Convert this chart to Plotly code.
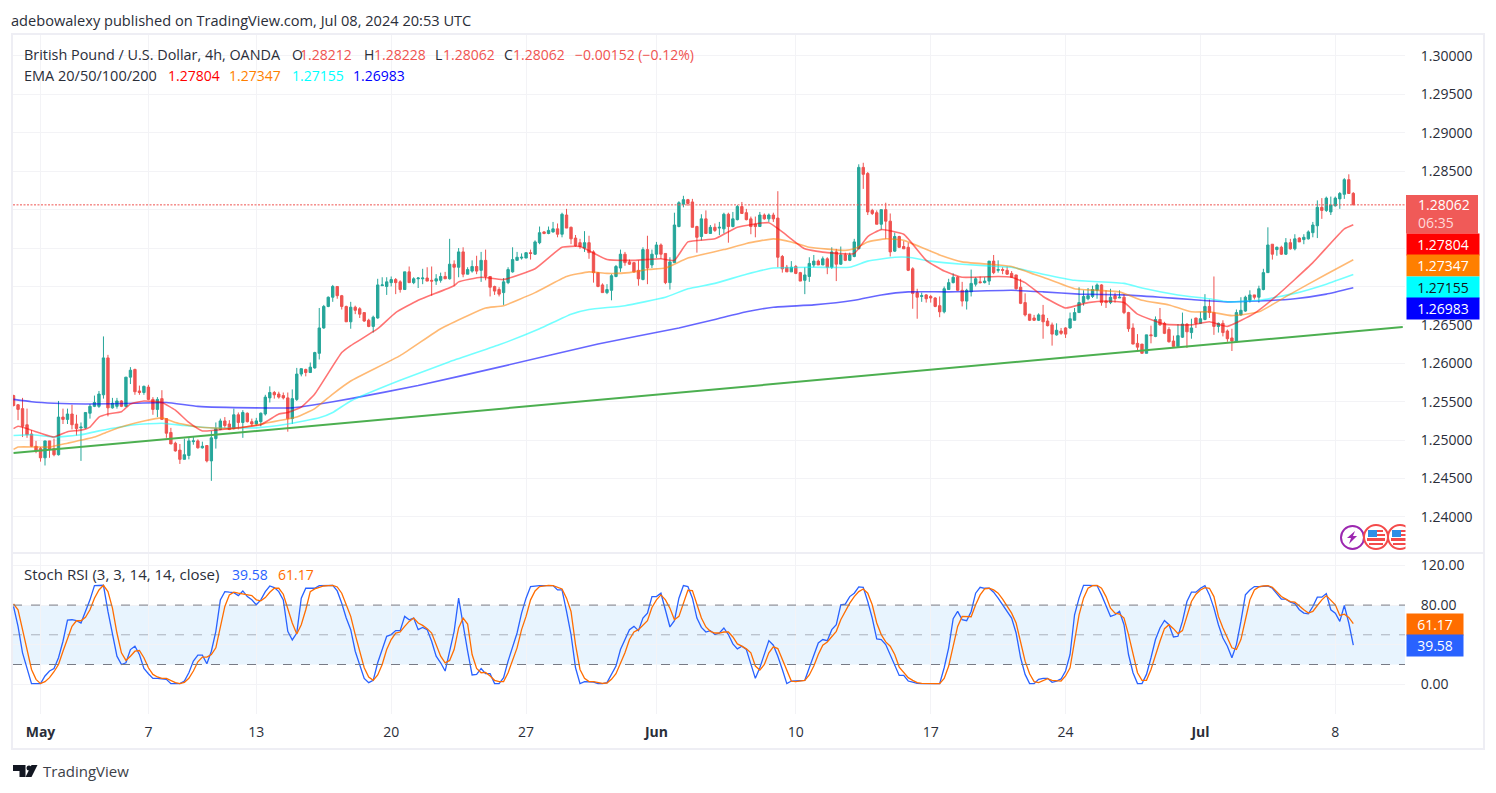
import plotly.graph_objects as go
from plotly.subplots import make_subplots

W, H = 1496, 793

# 4h bars, numbered from the May 1 session open
first_bar = -6

opens = [
    1.2558,1.2546,1.2541,1.2520,1.2508,1.2492,1.2489,1.2477,1.2499,1.2489,
    1.2481,1.2530,1.2527,1.2534,1.2521,1.2516,1.2516,1.2535,1.2544,1.2544,
    1.2559,1.2607,1.2542,1.2544,1.2551,1.2544,1.2582,1.2592,1.2564,1.2562,
    1.2569,1.2553,1.2540,1.2554,1.2528,1.2510,1.2496,1.2487,1.2475,1.2480,
    1.2498,1.2499,1.2490,1.2493,1.2473,1.2502,1.2514,1.2525,1.2521,1.2515,
    1.2533,1.2523,1.2535,1.2524,1.2521,1.2524,1.2534,1.2555,1.2562,1.2560,
    1.2558,1.2555,1.2528,1.2553,1.2586,1.2592,1.2588,1.2594,1.2613,1.2646,
    1.2674,1.2686,1.2700,1.2688,1.2674,1.2654,1.2673,1.2671,1.2666,1.2656,
    1.2648,1.2659,1.2701,1.2700,1.2705,1.2709,1.2706,1.2696,1.2719,1.2705,
    1.2710,1.2710,1.2711,1.2708,1.2707,1.2708,1.2713,1.2710,1.2729,1.2725,
    1.2745,1.2716,1.2720,1.2726,1.2721,1.2734,1.2713,1.2700,1.2696,1.2692,
    1.2705,1.2719,1.2734,1.2737,1.2737,1.2744,1.2742,1.2757,1.2771,1.2769,
    1.2771,1.2775,1.2768,1.2793,1.2777,1.2763,1.2757,1.2750,1.2757,1.2745,
    1.2718,1.2702,1.2692,1.2695,1.2713,1.2724,1.2742,1.2732,1.2731,1.2721,
    1.2709,1.2748,1.2728,1.2742,1.2754,1.2743,1.2705,1.2731,1.2778,1.2807,
    1.2813,1.2810,1.2778,1.2765,1.2788,1.2769,1.2777,1.2776,1.2775,1.2794,
    1.2778,1.2787,1.2804,1.2796,1.2788,1.2781,1.2778,1.2793,1.2788,1.2793,
    1.2789,1.2739,1.2725,1.2719,1.2726,1.2718,1.2708,1.2713,1.2728,1.2733,
    1.2728,1.2736,1.2725,1.2745,1.2729,1.2741,1.2734,1.2739,1.2749,1.2855,
    1.2847,1.2799,1.2796,1.2781,1.2800,1.2785,1.2746,1.2765,1.2752,1.2751,
    1.2723,1.2692,1.2687,1.2689,1.2687,1.2685,1.2675,1.2667,1.2696,1.2705,
    1.2712,1.2695,1.2681,1.2693,1.2703,1.2706,1.2705,1.2707,1.2733,1.2721,
    1.2722,1.2721,1.2717,1.2715,1.2699,1.2679,1.2664,1.2659,1.2656,1.2663,
    1.2655,1.2650,1.2637,1.2642,1.2646,1.2646,1.2656,1.2666,1.2679,1.2684,
    1.2687,1.2695,1.2702,1.2681,1.2679,1.2688,1.2685,1.2686,1.2666,1.2646,
    1.2626,1.2625,1.2613,1.2637,1.2635,1.2657,1.2652,1.2644,1.2629,1.2622,
    1.2634,1.2651,1.2640,1.2659,1.2652,1.2657,1.2674,1.2666,1.2648,1.2652,
    1.2642,1.2633,1.2628,1.2663,1.2668,1.2682,1.2689,1.2686,1.2696,1.2718,
    1.2755,1.2748,1.2751,1.2742,1.2757,1.2749,1.2763,1.2761,1.2762,1.2770,
    1.2779,1.2803,1.2799,1.2797,1.2805,1.2814,1.2820,1.2839,1.28212,
]
highs = [
    1.2559,1.2547,1.2555,1.2541,1.2513,1.2499,1.2491,1.2499,1.2499,1.2502,
    1.2551,1.2541,1.2541,1.2546,1.2533,1.2523,1.2536,1.2547,1.2558,1.2564,
    1.2635,1.2611,1.2555,1.2555,1.2552,1.2582,1.2595,1.2593,1.2571,1.2571,
    1.2572,1.2556,1.2556,1.2565,1.2528,1.2516,1.2498,1.2495,1.2502,1.2504,
    1.2504,1.2501,1.2498,1.2493,1.2512,1.2523,1.2528,1.2530,1.2526,1.2541,
    1.2536,1.2539,1.2536,1.2528,1.2529,1.2536,1.2559,1.2570,1.2564,1.2563,
    1.2562,1.2562,1.2566,1.2594,1.2593,1.2593,1.2601,1.2615,1.2672,1.2676,
    1.2687,1.2702,1.2700,1.2689,1.2675,1.2680,1.2675,1.2673,1.2666,1.2658,
    1.2662,1.2710,1.2712,1.2712,1.2713,1.2711,1.2708,1.2719,1.2726,1.2712,
    1.2712,1.2723,1.2725,1.2726,1.2716,1.2718,1.2719,1.2762,1.2734,1.2750,
    1.2751,1.2725,1.2734,1.2740,1.2745,1.2748,1.2713,1.2701,1.2699,1.2711,
    1.2725,1.2751,1.2745,1.2743,1.2744,1.2748,1.2760,1.2778,1.2772,1.2778,
    1.2784,1.2782,1.2796,1.2801,1.2778,1.2767,1.2762,1.2772,1.2766,1.2747,
    1.2718,1.2704,1.2703,1.2716,1.2728,1.2748,1.2745,1.2735,1.2732,1.2734,
    1.2751,1.2766,1.2748,1.2758,1.2756,1.2743,1.2738,1.2796,1.2811,1.2818,
    1.2814,1.2814,1.2779,1.2794,1.2799,1.2780,1.2782,1.2784,1.2796,1.2796,
    1.2797,1.2806,1.2810,1.2801,1.2791,1.2791,1.2797,1.2795,1.2795,1.2796,
    1.2824,1.2741,1.2728,1.2733,1.2728,1.2719,1.2725,1.2738,1.2741,1.2735,
    1.2739,1.2738,1.2751,1.2749,1.2752,1.2744,1.2744,1.2762,1.2859,1.2861,
    1.2849,1.2801,1.2799,1.2800,1.2809,1.2795,1.2770,1.2766,1.2759,1.2757,
    1.2725,1.2697,1.2692,1.2690,1.2689,1.2686,1.2687,1.2700,1.2710,1.2717,
    1.2713,1.2706,1.2697,1.2722,1.2712,1.2713,1.2712,1.2733,1.2741,1.2734,
    1.2725,1.2726,1.2720,1.2715,1.2710,1.2691,1.2664,1.2663,1.2665,1.2676,
    1.2659,1.2653,1.2652,1.2646,1.2647,1.2666,1.2672,1.2699,1.2695,1.2698,
    1.2701,1.2704,1.2703,1.2695,1.2697,1.2692,1.2695,1.2690,1.2667,1.2652,
    1.2638,1.2625,1.2637,1.2649,1.2661,1.2672,1.2654,1.2647,1.2636,1.2651,
    1.2666,1.2652,1.2658,1.2659,1.2667,1.2690,1.2683,1.2713,1.2653,1.2656,
    1.2644,1.2645,1.2670,1.2686,1.2688,1.2695,1.2689,1.2701,1.2723,1.2777,
    1.2755,1.2752,1.2753,1.2763,1.2762,1.2768,1.2764,1.2768,1.2773,1.2784,
    1.2812,1.2815,1.2817,1.2817,1.2817,1.2823,1.2841,1.2846,1.28228,
]
lows = [
    1.2544,1.2526,1.2504,1.2503,1.2491,1.2483,1.2472,1.2467,1.2477,1.2479,
    1.2480,1.2521,1.2521,1.2514,1.2506,1.2473,1.2515,1.2528,1.2543,1.2542,
    1.2554,1.2531,1.2541,1.2541,1.2543,1.2543,1.2573,1.2559,1.2559,1.2559,
    1.2552,1.2533,1.2530,1.2527,1.2503,1.2495,1.2485,1.2469,1.2475,1.2475,
    1.2494,1.2489,1.2489,1.2471,1.2447,1.2489,1.2513,1.2516,1.2513,1.2514,
    1.2514,1.2503,1.2523,1.2518,1.2519,1.2518,1.2532,1.2549,1.2554,1.2554,
    1.2553,1.2511,1.2521,1.2551,1.2583,1.2583,1.2588,1.2593,1.2605,1.2645,
    1.2673,1.2680,1.2684,1.2670,1.2654,1.2645,1.2664,1.2659,1.2654,1.2647,
    1.2640,1.2658,1.2701,1.2689,1.2700,1.2690,1.2692,1.2696,1.2705,1.2703,
    1.2698,1.2703,1.2707,1.2688,1.2702,1.2705,1.2710,1.2709,1.2701,1.2712,
    1.2712,1.2716,1.2718,1.2716,1.2706,1.2708,1.2687,1.2689,1.2687,1.2676,
    1.2703,1.2718,1.2734,1.2735,1.2737,1.2735,1.2741,1.2755,1.2768,1.2768,
    1.2770,1.2764,1.2764,1.2776,1.2755,1.2752,1.2749,1.2745,1.2736,1.2705,
    1.2699,1.2692,1.2690,1.2682,1.2712,1.2719,1.2727,1.2728,1.2718,1.2701,
    1.2708,1.2703,1.2724,1.2737,1.2736,1.2703,1.2696,1.2731,1.2777,1.2803,
    1.2805,1.2777,1.2744,1.2760,1.2769,1.2769,1.2771,1.2767,1.2769,1.2757,
    1.2777,1.2786,1.2795,1.2786,1.2768,1.2764,1.2778,1.2787,1.2784,1.2784,
    1.2725,1.2718,1.2719,1.2719,1.2716,1.2707,1.2690,1.2706,1.2725,1.2728,
    1.2728,1.2716,1.2723,1.2707,1.2728,1.2733,1.2733,1.2738,1.2749,1.2827,
    1.2793,1.2793,1.2781,1.2774,1.2762,1.2739,1.2745,1.2750,1.2749,1.2720,
    1.2671,1.2658,1.2680,1.2679,1.2679,1.2673,1.2660,1.2665,1.2696,1.2704,
    1.2694,1.2674,1.2670,1.2687,1.2700,1.2704,1.2704,1.2702,1.2716,1.2718,
    1.2716,1.2715,1.2712,1.2696,1.2677,1.2661,1.2655,1.2655,1.2655,1.2632,
    1.2648,1.2623,1.2636,1.2637,1.2633,1.2645,1.2656,1.2666,1.2675,1.2682,
    1.2685,1.2684,1.2675,1.2672,1.2677,1.2679,1.2685,1.2664,1.2641,1.2625,
    1.2615,1.2613,1.2613,1.2626,1.2634,1.2649,1.2638,1.2627,1.2622,1.2621,
    1.2633,1.2620,1.2632,1.2646,1.2651,1.2656,1.2659,1.2637,1.2640,1.2635,
    1.2628,1.2616,1.2627,1.2662,1.2667,1.2679,1.2683,1.2679,1.2695,1.2718,
    1.2735,1.2740,1.2741,1.2741,1.2748,1.2747,1.2758,1.2755,1.2761,1.2764,
    1.2763,1.2788,1.2797,1.2793,1.2804,1.2801,1.2814,1.2821,1.28062,
]
closes = [
    1.2545,1.2540,1.2518,1.2507,1.2492,1.2486,1.2477,1.2499,1.2488,1.2481,
    1.2530,1.2527,1.2534,1.2520,1.2515,1.2517,1.2536,1.2544,1.2549,1.2560,
    1.2607,1.2542,1.2548,1.2551,1.2544,1.2582,1.2591,1.2563,1.2562,1.2570,
    1.2553,1.2540,1.2553,1.2527,1.2509,1.2495,1.2486,1.2475,1.2481,1.2499,
    1.2499,1.2490,1.2492,1.2473,1.2503,1.2515,1.2525,1.2519,1.2514,1.2533,
    1.2523,1.2536,1.2524,1.2521,1.2525,1.2535,1.2556,1.2562,1.2559,1.2556,
    1.2555,1.2528,1.2554,1.2586,1.2593,1.2588,1.2595,1.2614,1.2646,1.2674,
    1.2686,1.2700,1.2688,1.2674,1.2654,1.2673,1.2669,1.2664,1.2655,1.2648,
    1.2660,1.2702,1.2702,1.2706,1.2709,1.2705,1.2696,1.2719,1.2705,1.2710,
    1.2711,1.2711,1.2707,1.2707,1.2710,1.2713,1.2710,1.2729,1.2725,1.2745,
    1.2716,1.2722,1.2726,1.2720,1.2734,1.2713,1.2699,1.2694,1.2690,1.2706,
    1.2722,1.2735,1.2738,1.2738,1.2744,1.2743,1.2758,1.2770,1.2769,1.2773,
    1.2775,1.2768,1.2794,1.2776,1.2762,1.2753,1.2752,1.2757,1.2744,1.2718,
    1.2700,1.2692,1.2696,1.2714,1.2726,1.2742,1.2731,1.2729,1.2719,1.2710,
    1.2748,1.2724,1.2742,1.2754,1.2742,1.2705,1.2732,1.2780,1.2809,1.2813,
    1.2808,1.2777,1.2764,1.2788,1.2769,1.2777,1.2773,1.2777,1.2794,1.2778,
    1.2788,1.2804,1.2795,1.2787,1.2778,1.2778,1.2793,1.2788,1.2793,1.2788,
    1.2738,1.2723,1.2719,1.2725,1.2717,1.2707,1.2715,1.2730,1.2733,1.2728,
    1.2736,1.2725,1.2745,1.2729,1.2741,1.2734,1.2741,1.2758,1.2855,1.2846,
    1.2797,1.2795,1.2781,1.2800,1.2785,1.2745,1.2765,1.2751,1.2749,1.2721,
    1.2691,1.2686,1.2688,1.2684,1.2685,1.2674,1.2667,1.2697,1.2705,1.2712,
    1.2695,1.2681,1.2695,1.2704,1.2710,1.2705,1.2707,1.2733,1.2718,1.2722,
    1.2721,1.2716,1.2712,1.2697,1.2678,1.2663,1.2656,1.2656,1.2663,1.2654,
    1.2649,1.2638,1.2643,1.2639,1.2638,1.2658,1.2666,1.2679,1.2687,1.2688,
    1.2696,1.2702,1.2679,1.2679,1.2686,1.2684,1.2686,1.2666,1.2645,1.2625,
    1.2621,1.2613,1.2637,1.2636,1.2657,1.2650,1.2639,1.2628,1.2622,1.2636,
    1.2651,1.2641,1.2646,1.2652,1.2658,1.2674,1.2666,1.2648,1.2652,1.2640,
    1.2632,1.2629,1.2666,1.2669,1.2686,1.2689,1.2686,1.2697,1.2718,1.2754,
    1.2742,1.2751,1.2742,1.2757,1.2749,1.2762,1.2758,1.2764,1.2771,1.2780,
    1.2803,1.2799,1.2815,1.2806,1.2815,1.2821,1.2839,1.2821,1.28062,
]

# EMA readings taken at the bars where each line bends
ema20_bars = [-6,-5,0,3,6,9,11,13,15,18,20,23,27,30,33,36,42,49,53,55,58,61,67,69,75,79,84,92,93,98,
              103,110,116,120,126,132,138,141,144,150,155,162,165,170,175,181,184,187,192,197,201,205,
              213,216,219,223,228,233,237,241,244,250,256,260,264,270,275,283,290,292]
ema20 = [1.2515,1.2518,1.2509,1.2504,1.2511,1.2513,1.2517,1.2530,1.2534,1.2537,1.2547,1.2551,1.2549,1.2539,
         1.2523,1.2512,1.2515,1.2520,1.2534,1.2536,1.2543,1.2560,1.2614,1.2623,1.2645,1.2666,1.2682,1.2701,
         1.2706,1.2712,1.2709,1.2723,1.2751,1.2752,1.2735,1.2734,1.2736,1.2734,1.2758,1.2762,1.2777,1.2783,
         1.2771,1.2749,1.2744,1.2743,1.2765,1.2774,1.2768,1.2734,1.2720,1.2712,1.2713,1.2712,1.2705,1.2687,
         1.2672,1.2679,1.2681,1.2679,1.2664,1.2651,1.2650,1.2654,1.2648,1.2665,1.2688,1.2731,1.2775,1.27804]
ema50_bars = [-6,-5,2,6,12,15,19,23,27,30,35,43,50,57,61,65,69,80,89,95,99,103,110,117,122,126,131,135,139,
              144,152,157,163,167,171,179,181,184,188,192,200,205,213,216,221,223,230,240,245,251,256,260,
              265,271,278,286,292]
ema50 = [1.2488,1.2491,1.2491,1.2496,1.2504,1.2511,1.2519,1.2525,1.2529,1.2523,1.2517,1.2515,1.2522,1.2530,
         1.2541,1.2560,1.2577,1.2610,1.2645,1.2662,1.2672,1.2675,1.2692,1.2713,1.2719,1.2717,1.2718,1.2722,
         1.2724,1.2737,1.2748,1.2756,1.2762,1.2758,1.2751,1.2747,1.2749,1.2758,1.2762,1.2760,1.2741,1.2732,
         1.2728,1.2726,1.2716,1.2712,1.2697,1.2693,1.2682,1.2676,1.2667,1.2667,1.2662,1.2667,1.2690,1.2716,
         1.27347]
ema100_bars = [-6,-2,3,9,13,21,27,32,38,48,55,62,65,69,80,91,102,111,118,122,130,139,144,150,157,163,172,180,
               184,190,193,198,205,213,216,223,230,241,245,253,260,264,271,279,286,292]
ema100 = [1.2506,1.2507,1.2504,1.2507,1.2512,1.2520,1.2522,1.2519,1.2516,1.2516,1.2521,1.2529,1.2536,1.2551,
          1.2578,1.2602,1.2624,1.2645,1.2664,1.2670,1.2675,1.2686,1.2697,1.2704,1.2716,1.2724,1.2725,1.2725,
          1.2733,1.2738,1.2738,1.2733,1.2729,1.2726,1.2725,1.2716,1.2708,1.2704,1.2698,1.2689,1.2684,1.2680,
          1.2682,1.2691,1.2703,1.27155]
ema200_bars = [-6,-2,3,10,21,28,35,48,56,61,69,84,102,124,142,150,157,163,172,181,187,193,202,216,223,231,241,
               249,256,264,271,279,286,292]
ema200 = [1.2553,1.2550,1.2548,1.2547,1.2548,1.2549,1.2544,1.2542,1.2542,1.2546,1.2554,1.2571,1.2595,1.2625,
          1.2646,1.2657,1.2667,1.2673,1.2676,1.2682,1.2689,1.2693,1.2693,1.2695,1.2693,1.2690,1.2689,1.2686,
          1.2683,1.2680,1.2681,1.2684,1.2690,1.26983]

trend_bars = [-6, 303]
trend_prices = [1.24833, 1.26473]

stoch_k = [
    78.6,58.5,31.8,15,0.7,0.7,0.7,8.4,13.4,16,
    26.8,43.5,64.9,65.2,64.2,61.9,73.6,85.3,99.7,100,
    100,73.6,51.8,28.4,20,21.7,35.1,38.5,30.1,16,
    10.7,6,6,5.7,5,0.7,0.7,0.7,3.3,11.7,
    23.4,29.4,29.4,20.7,33.4,53.5,85.3,93.6,93,92.6,
    89.6,94.3,88.6,85.3,80.3,85.3,93.6,99.3,97.7,93.6,
    85.3,53.5,44.8,51.8,87,97,97,97,99.7,99.7,
    100,100,94.3,81.9,66.9,55.2,33.4,20,6,1.7,
    4,21.7,35.1,48.5,50.2,54.2,54.2,68.6,65.2,66.9,
    55.2,57.5,55.2,43.5,28.4,21.7,13.4,33.4,53.5,87,
    58.5,33.4,9.4,10,16,10.7,10.7,0.7,0.7,
    6.7,23.4,38.5,51.8,71.9,87,98.7,99.3,99.7,99.7,
    100,99.7,95.3,95.3,73.6,50.2,16.7,0.7,2.7,2.7,
    2.3,0.7,0.7,1.7,10,18.4,35.1,45.2,55.2,58.5,
    54.2,66.9,71.9,88.6,88.6,92,73.6,57.9,64.2,87,
    99.7,98.7,87,66.9,57.5,52.8,54.2,50.2,51.8,56.9,
    50.2,40.8,35.8,38.5,35.1,20,6,16.7,30.1,44.1,
    39.5,28.4,15,0.7,3.3,3.3,3.3,4,16.7,30.1,
    41.8,45.2,44.1,55.2,60.2,80.3,80.9,88.6,92,98.3,
    98,83.6,66.9,45.8,45.2,40.1,30.1,20,9,9,
    3.3,2.3,1,0.7,0.7,0.7,0.7,0.7,16.7,36.8,
    66.2,73.6,65.2,64.2,73.6,92,98,97,97,
    93,87,80.3,73.6,66.9,51.8,26.8,10,0.7,0.7,
    5,6,6,2,3.3,5.4,13.4,30.1,70.2,87,
    100,100,100,99.7,90.3,80.3,68.6,70.2,73.6,60.2,
    30.1,11.7,0.7,0.7,10,26.8,45.2,56.9,64.5,60.2,
    47.8,48.5,63.5,83.6,93,93,97,99.7,90.3,76.9,
    60.2,46.8,38.5,26.8,40.1,63.5,90.3,95.3,98.7,98.7,
    98.7,99.3,97,92,86,86,82.9,81.6,75.3,71.9,
    71.2,78.6,88,88,91.6,75.3,71.9,63.5,79.6,61.9,
    39.58,
]
stoch_d = [
    81.3,75.3,55.2,33.4,15,5,0.7,2.7,6.7,12.7,
    20,33.4,46.8,58.5,64.2,64.2,67.6,75.3,87,95.3,
    100,93.6,76.9,51.8,31.8,24.1,28.4,33.4,34.1,26.8,
    16.7,10,7.4,6,6,4,1.7,0.7,2,6,
    13.4,22.7,27.4,27.4,30.1,36.8,58.5,78.6,90.3,93,
    92,91.3,91,89.6,85.3,84.3,87.6,93,97,97,
    91,76.9,61.9,50.8,60.2,75.3,93.6,96.3,97.7,99.3,
    99.7,100,98.3,92,80.3,68.6,50.2,33.4,16.7,7.4,
    4,9.4,20,35.1,45.2,51.8,52.8,58.5,63.5,66.9,
    61.9,59.5,56.2,51.8,40.8,28.4,21.7,24.1,35.1,56.9,
    66.9,60.9,30.1,16,11.7,12,8.4,4,2.7,
    2.7,11.7,23.4,36.8,55.2,68.6,85.3,94.3,98.7,99.7,
    100,99.7,98.3,96.3,87,73.6,40.1,15,6,2.7,
    2.7,1.7,1,1.3,5,10.7,21.7,31.8,45.2,52.8,
    55.2,60.2,64.2,77.6,85.3,90.3,85.3,76.9,65.2,68.6,
    81.9,95,94.6,80.3,66.9,57.9,53.5,51.8,51.8,52.8,
    52.8,47.8,40.8,38.5,35.8,31.8,18.4,14.4,20,31.8,
    37.8,36.1,25.1,13.4,3.3,2.7,3,4,9.4,18.4,
    30.1,39.5,42.8,48.5,53.5,65.2,73.6,81.9,88.6,93.6,
    96.3,92,80.3,61.9,50.2,42.8,38.5,30.1,17.4,11.7,
    6.7,4,1.7,1,0.7,0.7,0.7,0.7,6,18.4,
    40.1,58.5,68.6,68.2,68.2,80.3,90.3,96.3,97,
    95.3,92,86,78.6,71.9,61.9,44.1,23.4,10.7,2.7,
    1.7,4,5.7,4,3.3,3.3,8.4,16.7,43.5,70.2,
    87,97,99.7,100,97,88.6,76.9,71.9,70.9,66.9,
    50.2,30.1,11.7,4,4,15,30.1,43.5,56.2,60.2,
    56.2,51.2,54.2,70.2,83.6,91,95.3,97.7,97,88.6,
    68.6,56.9,46.8,36.8,35.1,45.2,65.2,85.3,95.3,98.3,
    99.3,99.7,98,93.6,88.6,86,83.6,82.9,78.6,75.3,
    71.9,73.6,79.6,85.3,89.6,85.3,80.3,69.6,70.9,67.6,
    61.17,
]

# grid levels; the labels left blank sit behind the value tags in the original
price_ticks = [1.24, 1.245, 1.25, 1.255, 1.26, 1.265, 1.27, 1.275, 1.28, 1.285, 1.29, 1.295, 1.30]
price_labels = ["1.24000", "1.24500", "1.25000", "1.25500", "1.26000", "1.26500", "", "", "",
                "1.28500", "1.29000", "1.29500", "1.30000"]
stoch_ticks = [0, 40, 80, 120]
stoch_labels = ["0.00", "", "80.00", "120.00"]
time_bars = [0, 24, 48, 78, 108, 137, 168, 198, 228, 258, 288]
time_labels = ["<b>May</b>", "7", "13", "20", "27", "<b>Jun</b>", "10", "17", "24", "<b>Jul</b>", "8"]

FONT = "Open Sans"
UP, DOWN = "#26a69a", "#ef5350"
GRID = "#f3f3f6"
FRAME = "#eeeef4"
TEXT = "#2a2e39"


def fx(px):
    return px / W


def fy(py):
    return 1 - py / H


def poly(points):
    return "M" + " L".join(f"{fx(a):.5f},{fy(b):.5f}" for a, b in points) + " Z"


bars = list(range(first_bar, first_bar + len(closes)))

fig = make_subplots(rows=2, cols=1, shared_xaxes=True)

fig.add_trace(go.Scatter(x=trend_bars, y=trend_prices, mode="lines",
                         line=dict(color="#4caf50", width=2)), row=1, col=1)
for b, v, c in [(ema200_bars, ema200, "rgba(0,0,255,0.6)"),
                (ema100_bars, ema100, "rgba(0,255,255,0.55)"),
                (ema50_bars, ema50, "rgba(255,127,0,0.55)"),
                (ema20_bars, ema20, "rgba(255,0,0,0.55)")]:
    fig.add_trace(go.Scatter(x=b, y=v, mode="lines", line=dict(color=c, width=1.6, shape="spline", smoothing=0.4)),
                  row=1, col=1)

fig.add_trace(go.Candlestick(
    x=bars, open=opens, high=highs, low=lows, close=closes, whiskerwidth=0,
    increasing=dict(line=dict(color=UP, width=1), fillcolor=UP),
    decreasing=dict(line=dict(color=DOWN, width=1), fillcolor=DOWN),
), row=1, col=1)

fig.add_trace(go.Scatter(x=bars, y=stoch_k, mode="lines", line=dict(color="#2962ff", width=1.3)), row=2, col=1)
fig.add_trace(go.Scatter(x=bars, y=stoch_d, mode="lines", line=dict(color="#ff6d00", width=1.3)), row=2, col=1)

fig.update_layout(
    width=W, height=H, margin=dict(l=0, r=0, t=0, b=0),
    paper_bgcolor="white", plot_bgcolor="white", showlegend=False, boxgap=0.25,
    font=dict(family=FONT, size=14, color=TEXT),
)
x_range = [-6.12, 303.5]
fig.update_xaxes(range=x_range, domain=[fx(13), fx(1405)], tickvals=time_bars, ticktext=time_labels,
                 showgrid=True, gridcolor=GRID, gridwidth=1, zeroline=False, showline=False,
                 rangeslider_visible=False, ticks="outside", ticklen=5, tickcolor="rgba(0,0,0,0)")
fig.update_yaxes(side="right", showgrid=True, gridcolor=GRID, gridwidth=1, zeroline=False, showline=False,
                 ticks="outside", ticklen=12, tickcolor="rgba(0,0,0,0)")
fig.update_yaxes(row=1, col=1, domain=[fy(552), fy(35)], range=[1.23544, 1.30273],
                 tickvals=price_ticks, ticktext=price_labels)
fig.update_yaxes(row=2, col=1, domain=[fy(714), fy(554)], range=[-30, 131.6],
                 tickvals=stoch_ticks, ticktext=stoch_labels)

# last price line
fig.add_shape(type="line", xref="x domain", x0=0, x1=1, yref="y", y0=closes[-1], y1=closes[-1],
              line=dict(color=DOWN, width=1, dash="2px,1.5px"))
# stoch band and its levels
fig.add_shape(type="rect", xref="x2 domain", x0=0, x1=1, yref="y2", y0=20, y1=80,
              fillcolor="rgba(33,150,243,0.1)", line_width=0, layer="below")
for lev, col in [(80, "#787b86"), (50, "rgba(120,123,134,0.55)"), (20, "#787b86")]:
    fig.add_shape(type="line", xref="x2 domain", x0=0, x1=1, yref="y2", y0=lev, y1=lev,
                  line=dict(color=col, width=1, dash="dash"))

# chart frame
for x0, y0, x1, y1 in [(11, 33, 13, 750), (1483, 33, 1485, 750), (11, 33, 1485, 35),
                       (11, 748, 1485, 750), (13, 552, 1483, 554)]:
    fig.add_shape(type="rect", xref="paper", yref="paper", x0=fx(x0), x1=fx(x1), y0=fy(y1), y1=fy(y0),
                  fillcolor=FRAME, line_width=0)

# event icons, the last one runs under the price scale
fig.add_shape(type="circle", xref="paper", yref="paper", x0=fx(1341), x1=fx(1364), y0=fy(549), y1=fy(526),
              fillcolor="white", line=dict(color="#9c27b0", width=2))
fig.add_shape(type="path", xref="paper", yref="paper", fillcolor="#9c27b0", line_width=0,
              path=poly([(1355, 531), (1347, 538), (1351, 538), (1349, 544), (1357, 536), (1353, 536)]))
for cx in [1376, 1400]:
    fig.add_shape(type="circle", xref="paper", yref="paper", x0=fx(cx - 12), x1=fx(cx + 12), y0=fy(549), y1=fy(525),
                  fillcolor="white", line=dict(color="#f44a4a", width=2))
    fig.add_shape(type="rect", xref="paper", yref="paper", x0=fx(cx - 8), x1=fx(cx + 1), y0=fy(537), y1=fy(530),
                  fillcolor="#2f8fe6", line_width=0)
    for ya, yb, xa, xb in [(530, 532, cx + 1, cx + 7), (534, 536, cx + 1, cx + 9), (538, 541, cx - 9, cx + 9),
                           (543, 545, cx - 7, cx + 7)]:
        fig.add_shape(type="rect", xref="paper", yref="paper", x0=fx(xa), x1=fx(xb), y0=fy(yb), y1=fy(ya),
                      fillcolor="#f44a4a", line_width=0)
fig.add_shape(type="rect", xref="paper", yref="paper", x0=fx(1405.5), x1=fx(1483), y0=fy(552), y1=fy(524),
              fillcolor="white", line_width=0)

# last price tag background, text goes on top as two lines
fig.add_shape(type="rect", xref="paper", yref="paper", x0=fx(1406), x1=fx(1478), y0=fy(233.5), y1=fy(195),
              fillcolor="#f05a58", line_width=0)

# TradingView mark
for pts in [[(13, 765), (25.5, 765), (25.5, 777), (19.5, 777), (19.5, 771), (13, 771)],
            [(37.5, 765), (31.5, 777), (25.5, 777), (31.5, 765)]]:
    fig.add_shape(type="path", xref="paper", yref="paper", fillcolor="#131722", line_width=0, path=poly(pts))
fig.add_shape(type="circle", xref="paper", yref="paper", x0=fx(26.5), x1=fx(31.5), y0=fy(770.5), y1=fy(765.5),
              fillcolor="#131722", line_width=0)


def note(px, py, text, size=14, color=TEXT, **kw):
    fig.add_annotation(xref="paper", yref="paper", x=fx(px), y=fy(py), text=text, showarrow=False,
                       xanchor="left", yanchor="middle", borderpad=0,
                       font=dict(family=FONT, size=size, color=color), **kw)


note(10, 20, "adebowalexy published on TradingView.com, Jul 08, 2024 20:53 UTC", size=14.6)

note(23, 54, "British Pound / U.S. Dollar, 4h, OANDA", size=14.4)
for px, label, col in [(291, "O", TEXT), (299, "1.28212", DOWN), (363, "H", TEXT), (373, "1.28228", DOWN),
                       (434, "L", TEXT), (442, "1.28062", DOWN), (503, "C", TEXT), (512, "1.28062", DOWN),
                       (574, "\u22120.00152 (\u22120.12%)", DOWN)]:
    note(px, 54, label, color=col)

note(23, 75, "EMA 20/50/100/200", size=14.5)
for px, label, col in [(167, "1.27804", "#ff0000"), (228, "1.27347", "#ff7f00"),
                       (291, "1.27155", "#00ffff"), (352, "1.26983", "#0000ff")]:
    note(px, 75, label, color=col)

note(23, 574, "Stoch RSI (3, 3, 14, 14, close)", size=15)
note(231, 574, "39.58", color="#2962ff")
note(277, 574, "61.17", color="#ff6d00")
note(42, 771, "TradingView", size=15, color="#3c3f48")

# price and indicator tags
note(1417, 205, "1.28062", color="white")
note(1417, 223, "06:35", color="#ffd9d8")
for py, label, bg, fg in [(244.5, "1.27804", "#ff0000", "white"), (265.5, "1.27347", "#ff7f00", "white"),
                          (287.5, "1.27155", "#00ffff", "#131722"), (308.5, "1.26983", "#0000ff", "white")]:
    fig.add_annotation(xref="paper", yref="paper", x=fx(1406), y=fy(py), text=label, showarrow=False,
                       xanchor="left", yanchor="middle", bgcolor=bg, width=72, height=21, borderpad=0,
                       align="center", font=dict(family=FONT, size=14, color=fg))
for py, label, bg in [(624.5, "61.17", "#ff6d00"), (645.5, "39.58", "#2962ff")]:
    fig.add_annotation(xref="paper", yref="paper", x=fx(1406), y=fy(py), text=label, showarrow=False,
                       xanchor="left", yanchor="middle", bgcolor=bg, width=56, height=21, borderpad=0,
                       align="center", font=dict(family=FONT, size=14, color="white"))

fig.write_html("out.html", config={"displayModeBar": False},
               post_script="document.body.style.margin='0';")
